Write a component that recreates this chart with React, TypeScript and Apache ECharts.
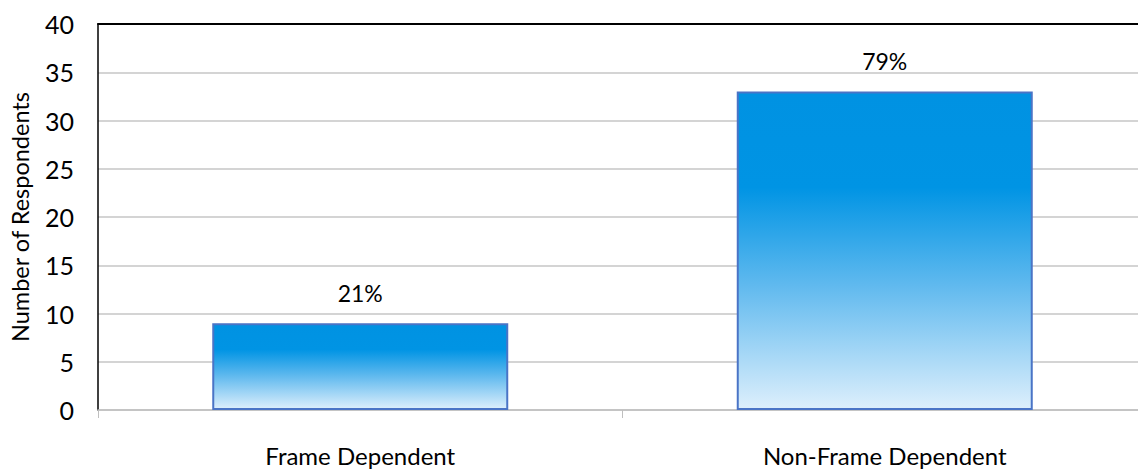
import React, { useEffect, useRef } from "react";
import * as echarts from "echarts";

const categories = ["Frame Dependent", "Non-Frame Dependent"];
const respondents = [9, 33];
const percentLabels = ["21%", "79%"];
const yTicks = { min: 0, max: 40, interval: 5 };
const yAxisTitle = "Number of Respondents";

export default function App() {
  const ref = useRef<HTMLDivElement>(null);
  useEffect(() => {
    if (!ref.current) return;
    const chart = echarts.init(ref.current, null, { renderer: "svg" });
    const font = "Lato, 'Open Sans', sans-serif";
    chart.setOption({
      animation: false,
      backgroundColor: "#ffffff",
      grid: { left: 97, top: 24, right: 3, bottom: 59, containLabel: false },
      xAxis: [
        {
          type: "category",
          data: categories,
          axisLine: { show: true, lineStyle: { color: "#BFBFBF", width: 1.5 } },
          axisTick: { show: true, alignWithLabel: false, length: 8, lineStyle: { color: "#BFBFBF" } },
          axisLabel: { color: "#000", fontFamily: font, fontSize: 24, margin: 33 },
          splitLine: { show: false },
        },
        {
          type: "category",
          data: categories,
          position: "top",
          axisLine: { show: true, lineStyle: { color: "#000", width: 2 } },
          axisTick: { show: false },
          axisLabel: { show: false },
        },
      ],
      yAxis: {
        type: "value",
        min: yTicks.min,
        max: yTicks.max,
        interval: yTicks.interval,
        name: yAxisTitle,
        nameLocation: "middle",
        nameGap: 66,
        nameTextStyle: { color: "#000", fontFamily: font, fontSize: 23.5 },
        axisLine: { show: true, lineStyle: { color: "#000", width: 1.5 } },
        axisTick: { show: false },
        axisLabel: { color: "#000", fontFamily: font, fontSize: 25, margin: 24 },
        splitLine: { show: true, lineStyle: { color: "#C6C6C6", width: 1.5 } },
      },
      series: [
        {
          type: "bar",
          data: respondents,
          barWidth: 296,
          itemStyle: {
            color: new echarts.graphic.LinearGradient(0, 0, 0, 1, [
              { offset: 0, color: "#0092E2" },
              { offset: 0.3, color: "#0094E4" },
              { offset: 0.6, color: "#5DB8EE" },
              { offset: 1, color: "#DDEFFC" },
            ]),
            borderColor: "#4A74C6",
            borderWidth: 2,
          },
          label: {
            show: true,
            position: "top",
            distance: 19,
            color: "#000",
            fontFamily: font,
            fontSize: 23,
            formatter: (p: any) => percentLabels[p.dataIndex],
          },
        },
      ],
    });
    return () => chart.dispose();
  }, []);
  return (
    <div
      style={{
        position: "absolute",
        left: 0,
        top: 0,
        width: 1138,
        height: 469,
        overflow: "hidden",
        background: "#fff",
      }}
    >
      <div ref={ref} style={{ width: 1150, height: 469 }} />
    </div>
  );
}
